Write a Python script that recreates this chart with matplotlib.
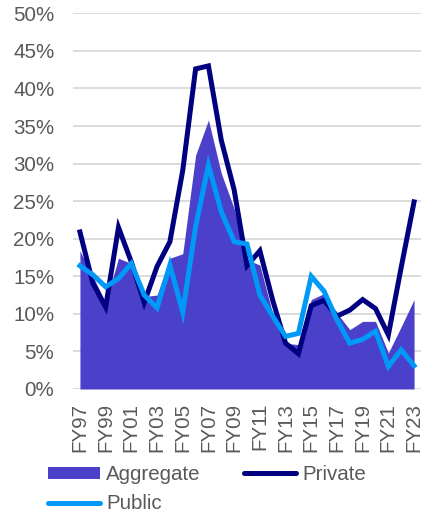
import matplotlib
matplotlib.use("Agg")
import matplotlib.pyplot as plt
from matplotlib.patches import Patch
from matplotlib.lines import Line2D
import numpy as np

years = [f"FY{y % 100:02d}" for y in range(1997, 2024)]
aggregate = [18.4, 15.0, 11.5, 17.4, 16.7, 12.3, 12.5, 17.4, 18.0, 31.1, 35.8, 28.7, 24.0,
             17.2, 16.5, 10.0, 6.1, 5.9, 11.9, 12.7, 10.1, 7.9, 9.0, 9.0, 4.8, 8.3, 11.9]
private = [20.9, 14.1, 10.9, 21.5, 16.9, 11.5, 16.3, 19.6, 29.1, 42.6, 43.0, 33.1, 26.5,
           16.4, 18.4, 11.8, 6.1, 4.7, 11.1, 11.8, 9.7, 10.5, 11.9, 10.7, 7.2, 16.2, 24.9]
public = [16.4, 15.2, 13.6, 14.7, 16.7, 12.5, 10.8, 16.5, 10.2, 21.6, 29.8, 23.6, 19.6,
          19.3, 12.5, 9.7, 7.0, 7.4, 15.0, 13.0, 9.2, 6.1, 6.6, 7.7, 3.0, 5.2, 3.1]
yticks = [0, 5, 10, 15, 20, 25, 30, 35, 40, 45, 50]

plt.rcParams['font.family'] = ['Liberation Sans', 'DejaVu Sans']

W, H = 424, 516
fig = plt.figure(figsize=(W / 100, H / 100), dpi=100)
ax = fig.add_axes([73 / W, 1 - 389 / H, (421 - 73) / W, (389 - 13.3) / H])

x = np.arange(len(years))
agg = np.array(aggregate) / 100
priv = np.array(private) / 100
pub = np.array(public) / 100

c_agg = '#4A40C9'
c_priv = '#000080'
c_pub = '#0099F7'

ax.fill_between(x, 0, agg, color=c_agg, lw=0, zorder=2)
ax.plot(x, priv, color=c_priv, lw=3.6, zorder=3, solid_joinstyle='miter')
ax.plot(x, pub, color=c_pub, lw=3.6, zorder=4, solid_joinstyle='miter')

ax.set_xlim(-0.54, len(years) - 1 + 0.54)
ax.set_ylim(0, 0.5)
ax.set_yticks([v / 100 for v in yticks])
ax.set_yticklabels([f"{v}%" for v in yticks])
ax.grid(axis='y', color='#D9D9D9', lw=1.3, zorder=0)
ax.set_axisbelow(True)
for s in ax.spines.values():
    s.set_visible(False)

ax.set_xticks(x[::2])
ax.set_xticklabels(years[::2], rotation=90)
ax.tick_params(axis='both', length=0, labelsize=14.8, colors='#595959')
ax.tick_params(axis='y', pad=13.5)
ax.tick_params(axis='x', pad=10)

handles = [Patch(facecolor=c_agg, edgecolor='none', label='Aggregate'),
           Line2D([], [], color=c_pub, lw=3.6, solid_capstyle='round', label='Public'),
           Line2D([], [], color=c_priv, lw=3.6, solid_capstyle='round', label='Private')]
leg = fig.legend(handles=handles, loc='upper left', bbox_to_anchor=(48 / W, 1 - 465 / H),
                 ncol=2, frameon=False, fontsize=14.8, handlelength=2.55, handleheight=0.5,
                 handletextpad=0.28, columnspacing=2.1, labelspacing=0.5,
                 borderpad=0, borderaxespad=0)
for t in leg.get_texts():
    t.set_color('#595959')

fig.savefig('out.png', dpi=100)
